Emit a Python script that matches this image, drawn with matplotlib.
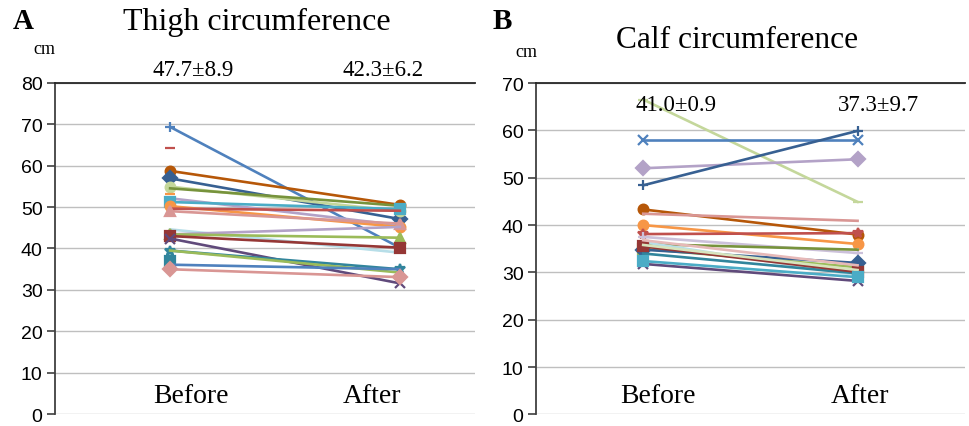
import numpy as np
import matplotlib
matplotlib.use("Agg")
import matplotlib.pyplot as plt

# thigh circumference (cm), one entry per subject: before / after
thigh_before = [69.3, 64.1, 58.7, 56.9, 54.9, 54.5, 53.1, 52.1, 51.2, 50.2, 49.6,
                49.0, 44.6, 43.4, 43.4, 43.0, 42.4, 39.5, 39.5, 37.1, 36.1, 35.0]
thigh_after = [40.2, np.nan, 50.5, 47.1, 49.0, 50.3, np.nan, 45.6, 49.5, 45.2, 49.1,
               46.0, 39.0, 45.2, 42.6, 40.2, 31.6, 35.0, 34.2, np.nan, 35.0, 33.1]

# calf circumference (cm)
calf_before = [66.5, 58.0, 52.0, 48.4, 43.3, 42.4, 40.0, 38.1, 37.5, 36.0,
               36.4, 35.0, 34.8, 34.0, 35.5, 35.8, 31.8, 32.4, 36.8]
calf_after = [44.9, 58.0, 53.9, 59.9, 38.0, 40.9, 36.0, 38.3, 34.1, 34.8,
              29.4, 31.1, 32.0, 29.8, 30.1, 30.5, 28.2, 29.0, 31.5]

categories = ["Before", "After"]
thigh_stats = ["47.7±8.9", "42.3±6.2"]
calf_stats = ["41.0±0.9", "37.3±9.7"]

# line styles (colour, marker) in Excel-like order
thigh_style = [("#4F81BD", "+"), ("#C0504D", "_"), ("#B65708", "o"), ("#376092", "D"),
               ("#C4D79B", "o"), ("#77933C", None), ("#F79646", "_"), ("#B3A2C7", None),
               ("#4BACC6", "s"), ("#F79646", "o"), ("#C0504D", None), ("#D99694", "^"),
               ("#B7DEE8", None), ("#B3A2C7", None), ("#9BBB59", "^"), ("#953735", "s"),
               ("#604A7B", "x"), ("#31859C", "*"), ("#9BBB59", None), ("#31859C", "s"),
               ("#4F81BD", None), ("#D99694", "D")]
calf_style = [("#C4D79B", "_"), ("#4F81BD", "x"), ("#B3A2C7", "D"), ("#376092", "+"),
              ("#B65708", "o"), ("#D99694", None), ("#F79646", "o"), ("#C0504D", "*"),
              ("#CCC1DA", "+"), ("#77933C", None), ("#B7DEE8", None), ("#9BBB59", "s"),
              ("#376092", "D"), ("#31859C", None), ("#953735", "s"), ("#D7E4BD", None),
              ("#604A7B", "x"), ("#4BACC6", "s"), ("#E6B9B8", None)]

serif = "Liberation Serif"
sans = "Liberation Sans"

fig = plt.figure(figsize=(9.7, 4.27), dpi=100)
ax1 = fig.add_axes([0.0567, 0.027, 0.433, 0.7774])
ax2 = fig.add_axes([0.5526, 0.027, 0.442, 0.7762])


def draw(ax, before, after, style, ymax, xlim):
    x = np.arange(len(categories))
    for b, a, (c, m) in zip(before, after, style):
        ax.plot(x, [b, a], color=c, lw=1.9, marker=m, ms=7, mew=1.6,
                markerfacecolor=c, markeredgecolor=c, zorder=3)
    ax.set_xlim(*xlim)
    ax.set_ylim(0, ymax)
    ax.set_yticks(np.arange(0, ymax + 1, 10))
    ax.yaxis.grid(True, color="#BFBFBF", lw=1)
    ax.set_axisbelow(True)
    ax.set_xticks([])
    for s in ["right", "bottom"]:
        ax.spines[s].set_visible(False)
    ax.spines["top"].set_color("#262626")
    ax.spines["top"].set_linewidth(1.3)
    ax.spines["left"].set_color("#404040")
    ax.spines["left"].set_linewidth(1.3)
    ax.tick_params(axis="y", length=6, width=1.2, color="#404040", pad=3,
                   labelsize=14)
    for t in ax.get_yticklabels():
        t.set_fontfamily(sans)


draw(ax1, thigh_before, thigh_after, thigh_style, 80, (-0.501, 1.327))
draw(ax2, calf_before, calf_after, calf_style, 70, (-0.5, 1.5))

# x category labels (sit inside the plot, just above the zero line)
for ax, xs in [(ax1, [0.324, 0.755]), (ax2, [0.285, 0.756])]:
    for xx, lab in zip(xs, categories):
        ax.text(xx, 0.058, lab, transform=ax.transAxes, ha="center", va="center",
                fontsize=20, family=serif)

# titles, panel letters, units, stats
fig.text(0.265, 0.948, "Thigh circumference", ha="center", va="center",
         fontsize=23, family=serif)
fig.text(0.76, 0.905, "Calf circumference", ha="center", va="center",
         fontsize=22.6, family=serif)
fig.text(0.013, 0.949, "A", ha="left", va="center", fontsize=21,
         family=serif, weight="bold")
fig.text(0.508, 0.949, "B", ha="left", va="center", fontsize=21,
         family=serif, weight="bold")
fig.text(0.034, 0.883, "cm", ha="left", va="center", fontsize=13, family=serif)
fig.text(0.531, 0.878, "cm", ha="left", va="center", fontsize=13, family=serif)
for xx, s in zip([0.199, 0.395], thigh_stats):
    fig.text(xx, 0.834, s, ha="center", va="center", fontsize=16.5, family=serif)
for xx, s in zip([0.697, 0.906], calf_stats):
    fig.text(xx, 0.754, s, ha="center", va="center", fontsize=16.5, family=serif)

fig.savefig("out.png", dpi=100, facecolor="white")
